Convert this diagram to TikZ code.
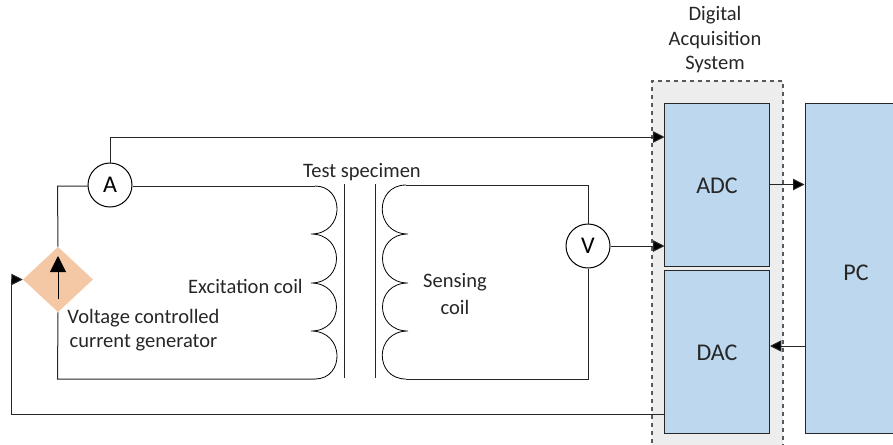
\documentclass[tikz,border=0pt]{standalone}
\usepackage{fontspec}
\setmainfont{Carlito}
\usetikzlibrary{arrows.meta,shapes.geometric}
\definecolor{blk}{HTML}{BDD7EE}
\definecolor{gen}{HTML}{F4C7A5}
\definecolor{sys}{HTML}{EDEDED}
\definecolor{ink}{HTML}{262626}
\tikzset{
  wire/.style={draw=ink,line width=0.75pt},
  sig/.style={wire,-{Triangle[length=8.5pt,width=8.5pt,fill=black]}},
  block/.style={rectangle,draw=ink,fill=blk,line width=0.75pt,inner sep=0pt,text=black},
  meter/.style={circle,draw=black,fill=white,line width=0.75pt,minimum size=33pt,inner sep=0pt,font=\fontsize{18}{18}\selectfont},
  lbl/.style={inner sep=0pt,text=ink,font=\fontsize{15.4}{15.4}\selectfont,align=center},
  big/.style={font=\fontsize{18}{18}\selectfont}
}
\begin{document}
\begin{tikzpicture}[x=0.75pt,y=-0.75pt]
\useasboundingbox (0,0) rectangle (893,444);
\clip (0,0) rectangle (893,444);
% acquisition system frame
\node[rectangle,draw=gray!70!black,dashed,fill=sys,line width=1pt,inner sep=0pt,minimum width=98.25pt,minimum height=285pt] (das) at (717.5,271) {};
% blocks
\node[block,minimum width=78.4pt,minimum height=122.25pt] (adc) at (717.25,184.5) {};
\node[block,minimum width=78.4pt,minimum height=122.25pt] (dac) at (717.25,351.5) {};
\node[block,minimum width=120pt,minimum height=247.5pt] (pc) at (885,268) {};
\node[lbl,big] (adclabel) at (717,186) {ADC};
\node[lbl,big] (daclabel) at (717,353) {DAC};
\node[lbl,big] (pclabel) at (856,273) {PC};
% generator
\node[diamond,draw=none,fill=gen,inner sep=0pt,minimum width=52.5pt,minimum height=49pt] (gen) at (58,279.5) {};
% meters
\node[meter] (amm) at (110,185) {A};
\node[meter] (vm) at (588,246) {V};
% junction coordinates
\coordinate (ex1) at (315,186);
\coordinate (ex2) at (315,379);
\coordinate (se1) at (406,185);
\coordinate (se2) at (406,379);
\coordinate (ac) at (110,137);
\coordinate (corner) at (57.5,186);
\coordinate (botl) at (57.5,379);
\coordinate (tr) at (588,185);
\coordinate (br) at (588,379);
\coordinate (fbA) at (665,414);
\coordinate (fbB) at (11,414);
\coordinate (fbC) at (11,279.5);
% excitation coil
\draw[wire,draw=black,line width=0.6pt] (ex1)
  .. controls (345,186) and (345,234) .. (311,234)
  .. controls (345,234) and (345,283) .. (311,283)
  .. controls (345,283) and (345,331) .. (311,331)
  .. controls (345,331) and (345,379) .. (ex2);
% sensing coil
\draw[wire,draw=black,line width=0.6pt] (se1)
  .. controls (374,185) and (374,234) .. (408,234)
  .. controls (374,234) and (374,283) .. (408,283)
  .. controls (374,283) and (374,331) .. (408,331)
  .. controls (374,331) and (374,379) .. (se2);
% specimen
\coordinate (s1a) at (344,184); \coordinate (s1b) at (344,378);
\coordinate (s2a) at (375,184); \coordinate (s2b) at (375,378);
\draw[wire] (s1a) -- (s1b);
\draw[wire] (s2a) -- (s2b);
% circuit wires
\draw[wire] (amm.west |- corner) -- (corner) -- (gen.north);
\draw[wire] (amm.east |- ex1) -- (ex1);
\draw[wire] (gen.south) -- (botl) -- (ex2);
\draw[wire] (se1) -- (tr) -- (vm.north);
\draw[wire] (vm.south) -- (br) -- (se2);
% signals
\draw[sig] (amm.north) -- (ac) -- (adc.west |- ac);
\draw[sig] (vm.east) -- (adc.west |- vm.east);
\draw[sig] (adc.east) -- (pc.west |- adc.east);
\draw[sig] (pc.west |- 0,346) -- (dac.east |- 0,346);
\draw[sig] (fbA) -- (fbB) -- (fbC) -- (gen.west);
% generator arrow
\coordinate (g1) at (58,299);
\coordinate (g2) at (58,256);
\draw[wire,draw=black,-{Triangle[length=12pt,width=12pt,fill=black]}] (g1) -- (g2);
% labels
\node[lbl] (l1) at (715,15.5) {Digital};
\node[lbl] (l2) at (715,40.5) {Acquisition};
\node[lbl] (l3) at (715,64.5) {System};
\node[lbl] (l4) at (362,172.5) {Test specimen};
\node[lbl,anchor=east] (l5) at (303,286.5) {Excitation coil};
\node[lbl] (l6) at (455,282.5) {Sensing};
\node[lbl] (l7) at (455,307.5) {coil};
\node[lbl] (l8) at (143.5,318.5) {Voltage controlled};
\node[lbl] (l9) at (143.5,342.5) {current generator};
\end{tikzpicture}
\end{document}
